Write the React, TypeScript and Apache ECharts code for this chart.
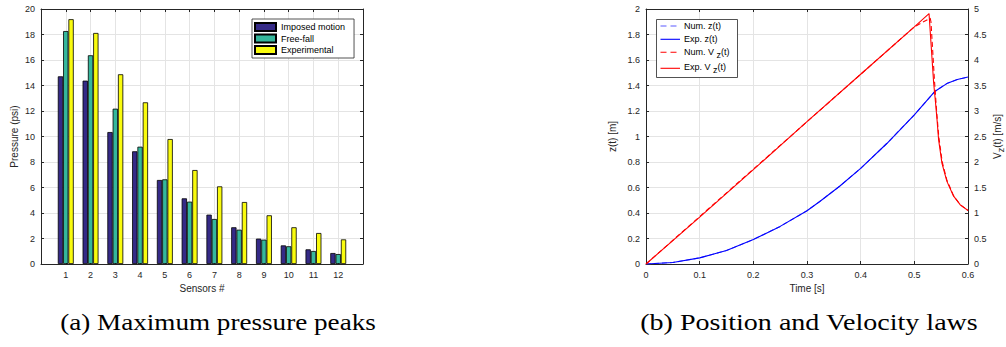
import React, { useEffect, useRef } from "react";
import * as echarts from "echarts";

// ---- Left chart: maximum pressure peaks ----
const sensors = [1, 2, 3, 4, 5, 6, 7, 8, 9, 10, 11, 12];
const imposedMotion = [14.72, 14.38, 10.35, 8.84, 6.59, 5.15, 3.87, 2.88, 1.99, 1.46, 1.15, 0.86];
const freeFall = [18.27, 16.37, 12.18, 9.2, 6.64, 4.89, 3.53, 2.69, 1.91, 1.39, 1.02, 0.78];
const experimental = [19.2, 18.12, 14.88, 12.68, 9.8, 7.37, 6.09, 4.86, 3.82, 2.88, 2.43, 1.93];

// ---- Right chart: position and velocity laws ----
const zTime = [0, 0.05, 0.1, 0.15, 0.2, 0.25, 0.3, 0.3238, 0.3608, 0.4, 0.4487, 0.5, 0.5293, 0.5387, 0.5605, 0.58, 0.6];
const numZ = [0, 0.012, 0.048, 0.106, 0.192, 0.295, 0.418, 0.49, 0.61, 0.75, 0.945, 1.17, 1.31, 1.355, 1.415, 1.447, 1.466];
const expZ = [0, 0.012, 0.048, 0.106, 0.192, 0.295, 0.418, 0.49, 0.61, 0.75, 0.945, 1.17, 1.31, 1.355, 1.415, 1.447, 1.466];

const numVTime = [0, 0.1, 0.2, 0.3, 0.4, 0.5, 0.5295, 0.531, 0.5375, 0.5415, 0.5455, 0.552, 0.5605, 0.573, 0.5857, 0.6];
const numV = [0, 0.93, 1.86, 2.79, 3.72, 4.65, 4.82, 4.75, 3.6, 3.0, 2.5, 2.0, 1.65, 1.34, 1.16, 1.05];
const expVTime = [0, 0.1, 0.2, 0.3, 0.4, 0.5, 0.5274, 0.536, 0.539, 0.5423, 0.5452, 0.5514, 0.5607, 0.5732, 0.5857, 0.6];
const expV = [0, 0.92, 1.85, 2.79, 3.72, 4.65, 4.91, 3.55, 3.22, 2.83, 2.44, 1.98, 1.62, 1.33, 1.16, 1.05];

const barNames = ["Imposed motion", "Free-fall", "Experimental"];
const lineNames = ["Num. z(t)", "Exp. z(t)", "Num. V_z(t)", "Exp. V_z(t)"];
const captions = ["(a) Maximum pressure peaks", "(b) Position and Velocity laws"];

const INK = "#262626";
const GRIDC = "#e4e4e4";
const SANS = "'Liberation Sans', Arial, Helvetica, sans-serif";
const SERIF = "'Liberation Serif', 'Times New Roman', serif";

function axisBase(extra: any) {
  return {
    type: "value",
    axisLine: { show: true, onZero: false, lineStyle: { color: INK, width: 1 } },
    axisTick: { show: true, inside: true, length: 3, lineStyle: { color: INK } },
    axisLabel: { color: INK, fontSize: 9, fontFamily: SANS, margin: 6 },
    splitLine: { show: false },
    nameTextStyle: { color: INK, fontSize: 10, fontFamily: SANS },
    ...extra,
  };
}

function legendLabel(n: string) {
  if (n.indexOf("V_z") >= 0) {
    const pre = n.split("V_z")[0];
    return "{a|" + pre + "V }{s|z}{a|(t)}";
  }
  return "{a|" + n + "}";
}

export default function App() {
  const ref = useRef<HTMLDivElement>(null);
  useEffect(() => {
    if (!ref.current) return;
    const chart = echarts.init(ref.current, undefined, { renderer: "svg" });
    const grids = [
      { left: 41, top: 9, width: 322, height: 255 },
      { left: 646, top: 9, width: 322, height: 255 },
    ];
    const xAxis = [
      axisBase({
        gridIndex: 0, position: "bottom", min: 0, max: 13, interval: 1,
        splitLine: { show: true, lineStyle: { color: GRIDC, width: 1 } },
        axisLabel: {
          color: INK, fontSize: 9, fontFamily: SANS, margin: 6,
          formatter: (v: number) => (v >= 1 && v <= 12 ? String(v) : ""),
        },
        name: "Sensors #", nameLocation: "middle", nameGap: 18,
      }),
      axisBase({ gridIndex: 0, position: "top", min: 0, max: 13, interval: 1, axisLabel: { show: false } }),
      axisBase({
        gridIndex: 1, position: "bottom", min: 0, max: 0.6, interval: 0.1,
        splitLine: { show: true, lineStyle: { color: GRIDC, width: 1 } },
        name: "Time [s]", nameLocation: "middle", nameGap: 18,
      }),
      axisBase({ gridIndex: 1, position: "top", min: 0, max: 0.6, interval: 0.1, axisLabel: { show: false } }),
    ];
    const yAxis = [
      axisBase({
        gridIndex: 0, position: "left", min: 0, max: 20, interval: 2,
        splitLine: { show: true, lineStyle: { color: GRIDC, width: 1 } },
        name: "Pressure (psi)", nameLocation: "middle", nameGap: 22,
      }),
      axisBase({ gridIndex: 0, position: "right", min: 0, max: 20, interval: 2, axisLabel: { show: false } }),
      axisBase({
        gridIndex: 1, position: "left", min: 0, max: 2, interval: 0.2,
        splitLine: { show: true, lineStyle: { color: GRIDC, width: 1 } },
        name: "z(t) [m]", nameLocation: "middle", nameGap: 29,
      }),
      axisBase({
        gridIndex: 1, position: "right", min: 0, max: 5, interval: 0.5,
        name: "{a|V}{s|z}{a|(t) [m/s]}", nameLocation: "middle", nameGap: 22,
        nameTextStyle: {
          color: INK, fontSize: 10, fontFamily: SANS,
          rich: {
            a: { color: INK, fontSize: 10, fontFamily: SANS },
            s: { color: INK, fontSize: 9, fontFamily: SANS, padding: [6, 0, 0, 0] },
          },
        },
      }),
    ];
    const barColors = ["#352a87", "#35b79c", "#f9fb0e"];
    const barData = [imposedMotion, freeFall, experimental];
    const barSeries = barNames.map((name, k) => ({
      name,
      type: "bar",
      xAxisIndex: 0,
      yAxisIndex: 0,
      barWidth: 5.3,
      barGap: "0%",
      itemStyle: { color: barColors[k], borderColor: "#000", borderWidth: 0.8 },
      data: sensors.map((s, i) => [s, barData[k][i]]),
    }));
    const lineColors = ["#5b5bff", "#0000ff", "#ff0000", "#ff0000"];
    const lineDashed = [true, false, true, false];
    const mkLine = (k: number, t: number[], v: number[], yIdx: number) => ({
      name: lineNames[k],
      type: "line",
      xAxisIndex: 2,
      yAxisIndex: yIdx,
      symbol: "none",
      showSymbol: false,
      smooth: false,
      lineStyle: { color: lineColors[k], width: 1.1, type: lineDashed[k] ? [5, 3] : "solid" },
      itemStyle: { color: lineColors[k] },
      data: t.map((x, i) => [x, v[i]]),
    });
    const lineSeries = [
      mkLine(0, zTime, numZ, 2),
      mkLine(1, zTime, expZ, 2),
      mkLine(2, numVTime, numV, 3),
      mkLine(3, expVTime, expV, 3),
    ];

    // right legend drawn as graphic (line samples + rich labels)
    const rowLineY = [26, 39.3, 52.3, 68.3];
    const rowTextY = [26, 39.3, 51.7, 66.7];
    const legendGraphic: any[] = [
      {
        type: "rect", z: 100,
        shape: { x: 656.5, y: 19.5, width: 81, height: 58 },
        style: { fill: "#ffffff", stroke: INK, lineWidth: 0.8 },
      },
    ];
    lineNames.forEach((n, k) => {
      legendGraphic.push({
        type: "line", z: 101,
        shape: { x1: 660.5, y1: rowLineY[k], x2: 680, y2: rowLineY[k] },
        style: { stroke: lineColors[k], lineWidth: 1.1, lineDash: lineDashed[k] ? [6, 4] : null },
      });
      legendGraphic.push({
        type: "text", z: 101, x: 684, y: rowTextY[k],
        style: {
          text: legendLabel(n), fill: "#000", fontSize: 9, fontFamily: SANS,
          align: "left", verticalAlign: "middle",
          rich: {
            a: { fill: "#000", fontSize: 9, fontFamily: SANS },
            s: { fill: "#000", fontSize: 9, fontFamily: SANS, padding: [7, 0, 0, 0] },
          },
        },
      });
    });

    chart.setOption({
      animation: false,
      backgroundColor: "#ffffff",
      grid: grids,
      xAxis,
      yAxis,
      legend: [
        {
          data: barNames,
          orient: "vertical",
          left: 252,
          top: 19,
          icon: "rect",
          itemWidth: 21,
          itemHeight: 8,
          itemGap: 1.5,
          padding: [3, 9, 3, 2],
          borderColor: INK,
          borderWidth: 0.8,
          backgroundColor: "#ffffff",
          textStyle: { color: "#000", fontSize: 9, fontFamily: SANS, lineHeight: 10 },
          selectedMode: false,
        },
      ],
      graphic: [
        ...legendGraphic,
        {
          type: "text", x: 218, y: 322, z: 10, scaleX: 1.18,
          style: {
            text: captions[0], fill: "#000", fontSize: 23, fontFamily: SERIF,
            align: "center", verticalAlign: "middle",
          },
        },
        {
          type: "text", x: 809, y: 322, z: 10, scaleX: 1.22,
          style: {
            text: captions[1], fill: "#000", fontSize: 23, fontFamily: SERIF,
            align: "center", verticalAlign: "middle",
          },
        },
      ],
      series: [...barSeries, ...lineSeries],
    });
    return () => chart.dispose();
  }, []);
  return (
    <div
      ref={ref}
      style={{ position: "fixed", left: 0, top: 0, width: 1006, height: 347, background: "#fff" }}
    />
  );
}
